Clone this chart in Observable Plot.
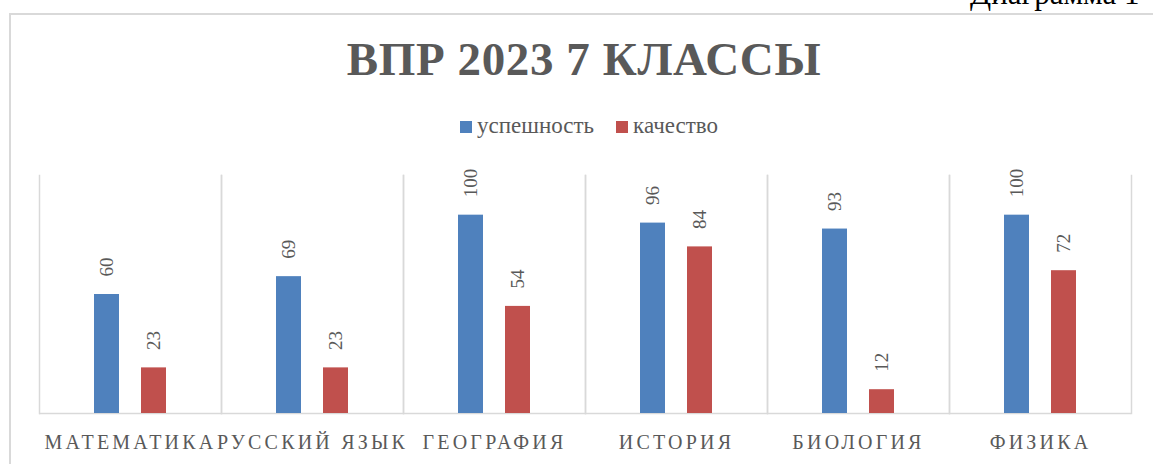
<!DOCTYPE html>
<html>
<head>
<meta charset="utf-8">
<script src="https://cdn.jsdelivr.net/npm/d3@7"></script>
<script src="https://cdn.jsdelivr.net/npm/@observablehq/plot@0.6"></script>
<style>
  html, body { margin: 0; padding: 0; background: #fff; overflow: hidden; }
  body { width: 1153px; height: 464px; position: relative; font-family: "Liberation Serif", "Times New Roman", serif; }
  #box { position: absolute; left: 9px; top: 13px; width: 1200px; height: 500px; border-left: 2px solid #d9d9d9; border-top: 2px solid #d9d9d9; box-sizing: border-box; }
  #caption { position: absolute; left: 970px; top: -22px; font-family: "Liberation Serif", serif; font-size: 31px; color: #000; white-space: nowrap; line-height: 1; }
  #title { position: absolute; left: 0; width: 1168px; top: 36px; text-align: center; font-family: "Liberation Serif", serif; font-size: 47px; font-weight: bold; color: #595959; letter-spacing: 0.6px; line-height: 1; white-space: nowrap; }
  #legend { position: absolute; left: 0; width: 1178px; top: 114px; text-align: center; font-family: "Liberation Serif", serif; font-size: 23px; color: #595959; line-height: 1; white-space: nowrap; }
  #legend span.item { display: inline-block; margin: 0 11px; }
  #legend span.sw { display: inline-block; width: 12px; height: 12px; margin-right: 5px; vertical-align: 0px; }
  #chart { position: absolute; left: 0; top: 0; }
  #chart svg text { font-family: "Liberation Serif", "Times New Roman", serif !important; }
</style>
</head>
<body>
<div id="box"></div>
<div id="caption">Диаграмма 1-</div>
<div id="title">ВПР 2023 7 КЛАССЫ</div>
<div id="legend"></div>
<div id="chart"></div>
<script>
const subjects = ["МАТЕМАТИКА", "РУССКИЙ ЯЗЫК", "ГЕОГРАФИЯ", "ИСТОРИЯ", "БИОЛОГИЯ", "ФИЗИКА"];
const series = ["успешность", "качество"];
const uspeshnost = [60, 69, 100, 96, 93, 100];
const kachestvo = [23, 23, 54, 84, 12, 72];
const colors = ["#4F81BD", "#C0504D"];

const data = [];
subjects.forEach((s, i) => {
  data.push({subject: s, series: series[0], value: uspeshnost[i]});
  data.push({subject: s, series: series[1], value: kachestvo[i]});
});

const legend = document.getElementById("legend");
series.forEach((s, i) => {
  const item = document.createElement("span");
  item.className = "item";
  const sw = document.createElement("span");
  sw.className = "sw";
  sw.style.background = colors[i];
  item.appendChild(sw);
  item.appendChild(document.createTextNode(s));
  legend.appendChild(item);
});

const serif = "Liberation Serif";
const chart = Plot.plot({
  width: 1153,
  height: 464,
  marginLeft: 38,
  marginRight: 21,
  marginTop: 175,
  marginBottom: 51,
  style: {background: "transparent", fontFamily: serif},
  fx: {domain: subjects, padding: 0, axis: null, label: null},
  x: {domain: series, paddingInner: 0.47, paddingOuter: 1.17, axis: null},
  y: {domain: [0, 120], axis: null},
  color: {domain: series, range: colors},
  marks: [
    Plot.frame({anchor: "left", stroke: "#d9d9d9", strokeWidth: 1.5, strokeOpacity: 1}),
    Plot.frame({anchor: "right", stroke: "#d9d9d9", strokeWidth: 1.5, strokeOpacity: 1}),
    Plot.ruleY([0], {stroke: "#d9d9d9", strokeWidth: 1.5}),
    Plot.barY(data, {fx: "subject", x: "series", y: "value", fill: "series"}),
    Plot.text(data, {
      fx: "subject", x: "series", y: "value", text: d => String(d.value),
      rotate: -90, textAnchor: "start", lineAnchor: "middle", dy: -18,
      fill: "#595959", fontSize: 19, fontFamily: serif
    }),
    Plot.text(subjects, {
      fx: d => d, text: d => d, frameAnchor: "bottom", lineAnchor: "bottom", dy: 35,
      fill: "#595959", fontSize: 20, fontFamily: serif
    })
  ]
});
d3.select(chart).selectAll("text")
  .filter(function () { return subjects.includes(this.textContent); })
  .attr("letter-spacing", "3.2px");
document.getElementById("chart").appendChild(chart);
</script>
</body>
</html>
